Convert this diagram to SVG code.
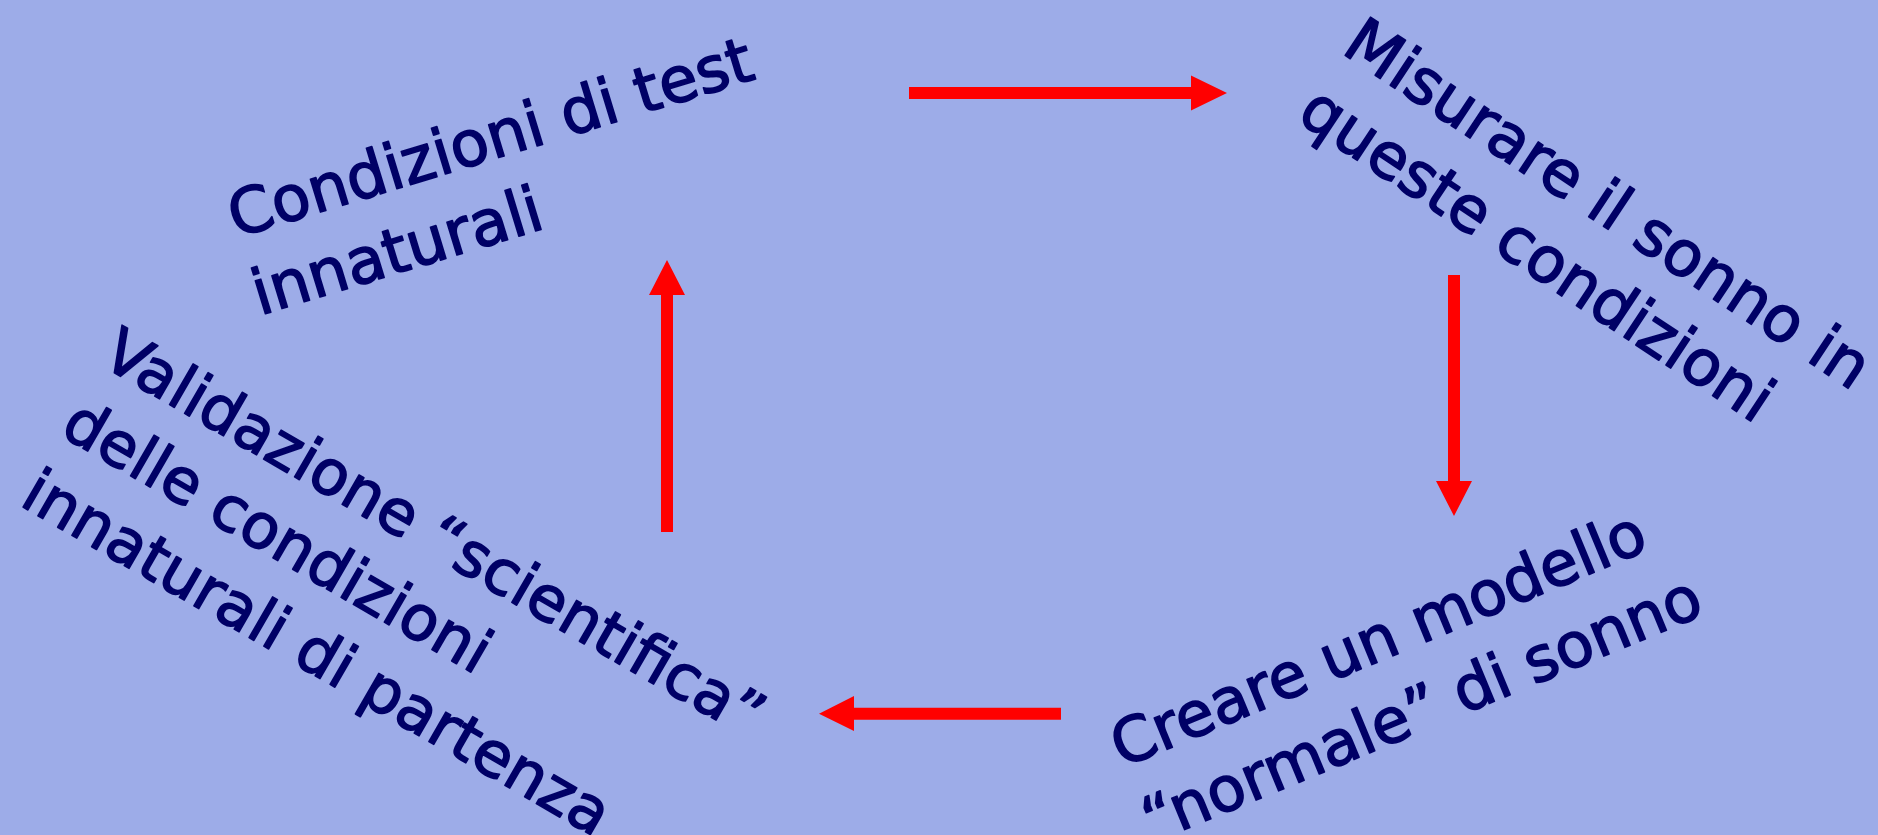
<svg xmlns="http://www.w3.org/2000/svg" width="1878" height="835" viewBox="0 0 1878 835">
  <style>
    .label { font-family: "DejaVu Sans", Verdana, sans-serif; font-size: 63px; fill: #000066; stroke: #000066; stroke-width: 1.6px; stroke-linejoin: round; }
    .small { font-size: 62px; }
    .arrow { fill: #ff0000; }
  </style>
  <rect width="1878" height="835" fill="#9dace8"/>

  <g id="node-condizioni">
    <text class="label" transform="translate(236,238) rotate(-17)">
      <tspan x="0" y="0">Condizioni di test</tspan>
      <tspan x="0" y="81">innaturali</tspan>
    </text>
  </g>

  <g id="node-misurare">
    <text class="label" transform="translate(1340,52) rotate(33.5)">
      <tspan x="0" y="0">Misurare il sonno in</tspan>
      <tspan x="0" y="81">queste condizioni</tspan>
    </text>
  </g>

  <g id="node-modello">
    <text class="label small" transform="translate(1122,768) rotate(-22.5)">
      <tspan x="0" y="0">Creare un modello</tspan>
      <tspan x="0" y="81">“normale” di sonno</tspan>
    </text>
  </g>

  <g id="node-validazione">
    <text class="label small" transform="translate(99,364) rotate(30)">
      <tspan x="0" y="0">Validazione “scientifica”</tspan>
      <tspan x="0" y="81">delle condizioni</tspan>
      <tspan x="0" y="162">innaturali di partenza</tspan>
    </text>
  </g>

  <g id="connectors">
    <!-- top: left to right -->
    <polygon class="arrow" points="909,87 1191,87 1191,75.5 1227,93 1191,110.5 1191,99 909,99"/>
    <!-- right: top to bottom -->
    <polygon class="arrow" points="1448,275 1460,275 1460,481 1472,481 1454,516 1436,481 1448,481"/>
    <!-- bottom: right to left -->
    <polygon class="arrow" points="1061,707.7 1061,719.7 854,719.7 854,731 819,713.7 854,696 854,707.7"/>
    <!-- left: bottom to top -->
    <polygon class="arrow" points="661,532 673,532 673,295 685,295 667,260 649,295 661,295"/>
  </g>
</svg>
